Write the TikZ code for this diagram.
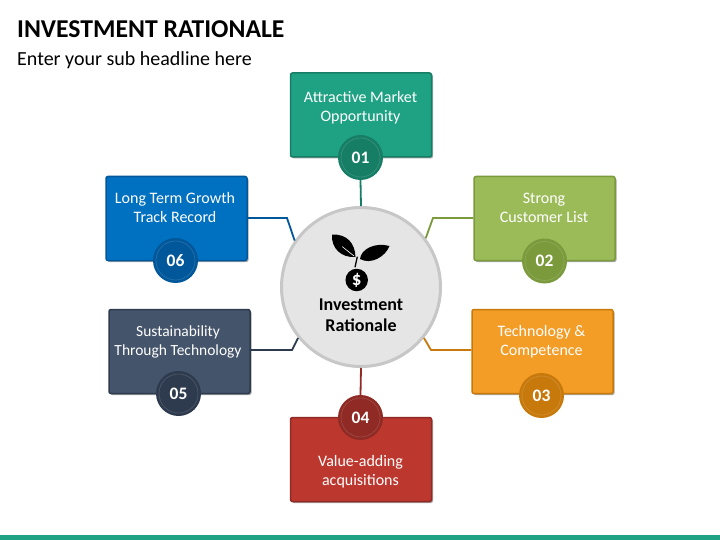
\documentclass[tikz,border=0pt]{standalone}
\usepackage{fontspec}
\setmainfont{Carlito}
\usetikzlibrary{shadows}
\definecolor{tealfill}{HTML}{1FA283}
\definecolor{tealdark}{HTML}{177E66}
\definecolor{greenfill}{HTML}{9BBB59}
\definecolor{greendark}{HTML}{7A9A3C}
\definecolor{orangefill}{HTML}{F39C26}
\definecolor{orangedark}{HTML}{C8790C}
\definecolor{redfill}{HTML}{BC382F}
\definecolor{reddark}{HTML}{8F2A24}
\definecolor{slatefill}{HTML}{44546A}
\definecolor{slatedark}{HTML}{2E3B4E}
\definecolor{bluefill}{HTML}{0070C0}
\definecolor{bluedark}{HTML}{00589B}
\tikzset{
  boxshape/.style={draw=#1, line width=1.5pt, rounded corners=2pt, minimum width=141pt, minimum height=84pt, inner sep=0pt,
    drop shadow={shadow xshift=1.5pt, shadow yshift=-1.5pt, fill=black, opacity=0.35}},
  boxtext/.style={text=white, align=center, font=\fontsize{16}{19}\selectfont, inner sep=0pt},
  badgering/.style={circle, fill=#1, minimum size=45pt, inner sep=0pt},
  badgenum/.style={circle, fill=#1, draw=white!14!#1, line width=0.7pt, minimum size=39pt, inner sep=0pt, text=white, font=\fontsize{17.5}{17.5}\selectfont\bfseries},
  link/.style={draw=#1, line width=1.8pt}
}
\begin{document}
\begin{tikzpicture}[x=1pt, y=-1pt]
  \useasboundingbox (0,0) rectangle (720,540);
  \fill[white] (0,0) rectangle (720,540);
  \fill[tealfill] (0,535) rectangle (720,540);
  \node (title) [anchor=west, inner sep=0pt, font=\fontsize{25.7}{25.7}\selectfont\bfseries] at (17,29) {INVESTMENT RATIONALE};
  \node (subtitle) [anchor=west, inner sep=0pt, font=\fontsize{20}{20}\selectfont] at (17,60.5) {Enter your sub headline here};
  % centre circle
  \node (hub) [circle, fill=black!10, draw=black!22, line width=3pt, minimum size=159pt, inner sep=0pt,
    drop shadow={shadow xshift=1pt, shadow yshift=-1pt, fill=black, opacity=0.2}] at (361,287) {};
  \node (hubtext) [align=center, inner sep=0pt, font=\fontsize{18}{21}\selectfont\bfseries] at (361,315) {Investment\\Rationale};
  % plant icon
  \fill[black] (332,234.5) .. controls (347,234) and (355,243) .. (355.5,257) .. controls (341,258) and (331,248) .. (332,234.5);
  \draw[white, line width=0.6pt] (342.3,246.7) -- (354,256);
  \fill[black] (360,259) .. controls (361,249) and (375,242) .. (389.5,246) .. controls (385,257) and (371,265) .. (360,259);
  \draw[black, line width=1.3pt] (357.3,256.7) -- (355,267.3);
  \node (coin) [circle, fill=black, minimum size=22.5pt, inner sep=0pt, text=white, font=\fontsize{19}{19}\selectfont\bfseries] at (356.7,280) {\$};
  % boxes
  \node (box1) [boxshape=tealdark, fill=tealfill] at (361,115) {};
  \node (box2) [boxshape=greendark, fill=greenfill] at (544.5,218.5) {};
  \node (box3) [boxshape=orangedark, fill=orangefill] at (542.5,351.5) {};
  \node (box4) [boxshape=reddark, fill=redfill] at (361,459.5) {};
  \node (box5) [boxshape=slatedark, fill=slatefill] at (179.5,351.5) {};
  \node (box6) [boxshape=bluedark, fill=bluefill] at (176.5,218.5) {};
  \node (text1) [boxtext] at (360.5,107.5) {Attractive Market\\Opportunity};
  \node (text2) [boxtext] at (544,208) {Strong\\Customer List};
  \node (text3) [boxtext] at (541.5,341.5) {Technology \&\\Competence};
  \node (text4) [boxtext] at (360.5,472) {Value-adding\\acquisitions};
  \node (text5) [boxtext, font=\fontsize{15.5}{19}\selectfont] at (178,341.5) {Sustainability\\Through Technology};
  \node (text6) [boxtext] at (175,208) {Long Term Growth\\Track Record};
  % badges
  \node (ring1) [badgering=tealdark] at (360.5,157.5) {};
  \node (num1) [badgenum=tealdark] at (ring1) {01};
  \node (ring2) [badgering=greendark] at (544.5,261) {};
  \node (num2) [badgenum=greendark] at (ring2) {02};
  \node (ring3) [badgering=orangedark] at (541.5,395.5) {};
  \node (num3) [badgenum=orangedark] at (ring3) {03};
  \node (ring4) [badgering=reddark] at (360.5,417.5) {};
  \node (num4) [badgenum=reddark] at (ring4) {04};
  \node (ring5) [badgering=slatedark] at (178.5,393.5) {};
  \node (num5) [badgenum=slatedark] at (ring5) {05};
  \node (ring6) [badgering=bluedark] at (175.5,260.5) {};
  \node (num6) [badgenum=bluedark] at (ring6) {06};
  % connectors
  \coordinate (bend2) at (433,218);
  \coordinate (bend3) at (431,350);
  \coordinate (bend5) at (292,350);
  \coordinate (bend6) at (287,218);
  \draw[link=tealdark] (ring1.south) -- (hub.north);
  \draw[link=greendark] (box2.west |- bend2) -- (bend2) -- (hub.37);
  \draw[link=orangedark] (box3.west |- bend3) -- (bend3) -- (hub.-39);
  \draw[link=reddark] (ring4.north) -- (hub.south);
  \draw[link=slatedark] (box5.east |- bend5) -- (bend5) -- (hub.219);
  \draw[link=bluedark] (box6.east |- bend6) -- (bend6) -- (hub.145);
\end{tikzpicture}
\end{document}
